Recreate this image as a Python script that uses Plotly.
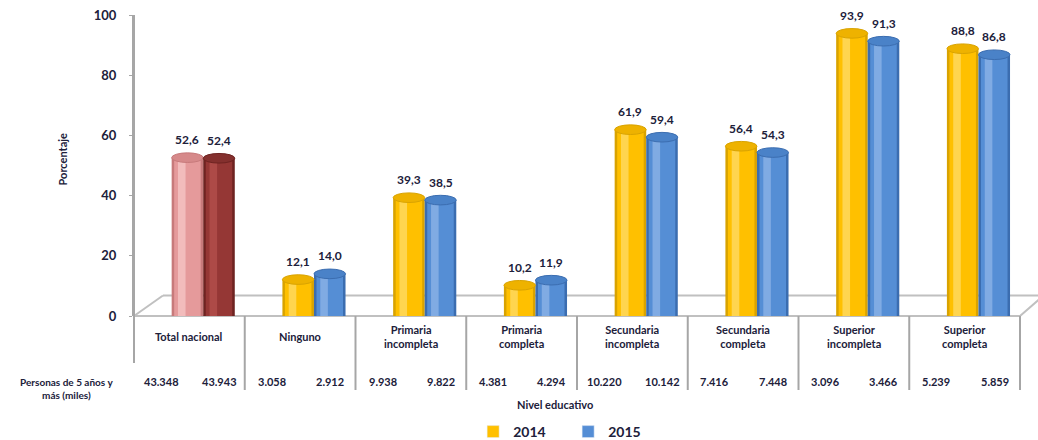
import plotly.graph_objects as go

# Nivel educativo: porcentaje y personas de 5 años y más (miles)
categorias = ["Total nacional", "Ninguno", "Primaria<br>incompleta", "Primaria<br>completa",
              "Secundaria<br>incompleta", "Secundaria<br>completa", "Superior<br>incompleta",
              "Superior<br>completa"]
pct_2014 = [52.6, 12.1, 39.3, 10.2, 61.9, 56.4, 93.9, 88.8]
pct_2015 = [52.4, 14.0, 38.5, 11.9, 59.4, 54.3, 91.3, 86.8]
personas_2014 = ["43.348", "3.058", "9.938", "4.381", "10.220", "7.416", "3.096", "5.239"]
personas_2015 = ["43.943", "2.912", "9.822", "4.294", "10.142", "7.448", "3.466", "5.859"]
anios = ["2014", "2015"]
y_ticks = [0, 20, 40, 60, 80, 100]

FONT = "Lato"
TXT = "#20203a"
GRID = "#a6a6a6"

# Shades per series: (edge, body, highlight, cap); first category uses the "total" palette
pal = {
    "2014": {"total": ("#c77a7b", "#e59a9b", "#f2bcbc", "#d6898a"),
             "rest": ("#d9a300", "#ffc000", "#ffd54f", "#eeb200")},
    "2015": {"total": ("#6e2321", "#953735", "#ad4a47", "#84302e"),
             "rest": ("#3b6db0", "#558ed5", "#80abe3", "#4a82c8")},
}
geom = {"2014": (-0.16, 0.285), "2015": (0.125, 0.285)}

x = list(range(len(categorias)))
fig = go.Figure()
shapes = []
annotations = []

for anio, vals in zip(anios, [pct_2014, pct_2015]):
    off, w = geom[anio]
    cols = [pal[anio]["total"] if i == 0 else pal[anio]["rest"] for i in x]
    layers = [(0, off, w), (1, off + w * 0.08, w * 0.84), (2, off + w * 0.2, w * 0.24)]
    for k, o, ww in layers:
        fig.add_trace(go.Bar(
            x=x, y=vals, offset=o, width=ww,
            marker=dict(color=[c[k] for c in cols], line=dict(width=0)),
            showlegend=False, hoverinfo="skip"))
    # rounded cylinder cap and value label
    for i, v in zip(x, vals):
        shapes.append(dict(type="circle", xref="x", yref="y", layer="above",
                           x0=i + off, x1=i + off + w, y0=v - 1.6, y1=v + 1.6,
                           fillcolor=cols[i][3], line=dict(color=cols[i][0], width=1)))
        annotations.append(dict(x=i + off + w / 2, y=v, xref="x", yref="y",
                                text=f"{v:.1f}".replace(".", ","), showarrow=False,
                                yshift=18, font=dict(family=FONT, size=12, color=TXT,
                                                     weight="bold")))

# legend swatches
for anio, col in zip(anios, ["#ffc000", "#558ed5"]):
    fig.add_trace(go.Bar(x=[None], y=[None], name=anio, marker_color=col))

# 3D floor outline
floor = dict(color="#c0c0c0", width=2)
shapes += [
    dict(type="line", xref="paper", yref="paper", x0=0.0327, x1=1.03, y0=0.068, y1=0.068, line=floor, layer="below"),
    dict(type="line", xref="paper", yref="paper", x0=0, x1=0.0327, y0=0, y1=0.068, line=floor, layer="below"),
    dict(type="line", xref="paper", yref="paper", x0=1.0, x1=1.022, y0=0, y1=0.056, line=floor, layer="below"),
    dict(type="line", xref="paper", yref="paper", x0=0, x1=1.0, y0=0, y1=0, line=floor, layer="below"),
]

# data table below the chart
PLOT_H = 301.0
def py(pix_below):  # pixels below the floor line -> paper y
    return -pix_below / PLOT_H

n = len(categorias)
shapes.append(dict(type="line", xref="paper", yref="paper", x0=0, x1=0, y0=1, y1=py(47),
                   line=dict(color=GRID, width=2)))
for k in range(1, n + 1):
    shapes.append(dict(type="line", xref="paper", yref="paper", x0=k / n, x1=k / n,
                       y0=0, y1=py(74), line=dict(color=GRID, width=2)))

for i, cat in enumerate(categorias):
    annotations.append(dict(x=i, y=py(20), xref="x", yref="paper", text=cat, showarrow=False,
                            yanchor="middle", font=dict(family=FONT, size=11, color=TXT, weight="bold")))
    for dx, t in [(-0.255, personas_2014[i]), (0.27, personas_2015[i])]:
        annotations.append(dict(x=i + dx, y=py(65), xref="x", yref="paper", text=t, showarrow=False,
                                yanchor="middle", font=dict(family=FONT, size=11, color=TXT, weight="bold")))

annotations += [
    dict(x=0, y=py(72), xref="paper", yref="paper", xshift=-68, xanchor="center",
         text="Personas de 5 años y<br>más (miles)", showarrow=False, yanchor="middle",
         font=dict(family=FONT, size=10, color=TXT, weight="bold")),
    dict(x=0.475, y=py(88), xref="paper", yref="paper", xanchor="center", text="Nivel educativo",
         showarrow=False, yanchor="middle", font=dict(family=FONT, size=11, color=TXT, weight="bold")),
    dict(x=0, y=0.52, xref="paper", yref="paper", xshift=-72, xanchor="center", yanchor="middle",
         text="Porcentaje", textangle=-90, showarrow=False,
         font=dict(family=FONT, size=11, color=TXT, weight="bold")),
]

fig.update_layout(
    width=1038, height=440,
    margin=dict(l=134, r=18, t=15, b=124, autoexpand=False),
    paper_bgcolor="white", plot_bgcolor="white",
    barmode="overlay",
    xaxis=dict(range=[-0.5, n - 0.5], showticklabels=False, showgrid=False, zeroline=False,
               showline=False, ticks=""),
    yaxis=dict(range=[0, 100], tickvals=y_ticks, showgrid=False, zeroline=False, showline=True,
               linecolor=GRID, linewidth=2, ticks="outside", ticklen=3, tickcolor=GRID,
               ticklabelstandoff=10,
               tickfont=dict(family=FONT, size=13, color=TXT, weight="bold")),
    legend=dict(orientation="h", x=0.49, y=py(116), xanchor="center", yanchor="middle",
                font=dict(family=FONT, size=14, color=TXT, weight="bold"), entrywidth=50,
                itemwidth=30),
    shapes=shapes, annotations=annotations,
)

fig.write_html("out.html")
